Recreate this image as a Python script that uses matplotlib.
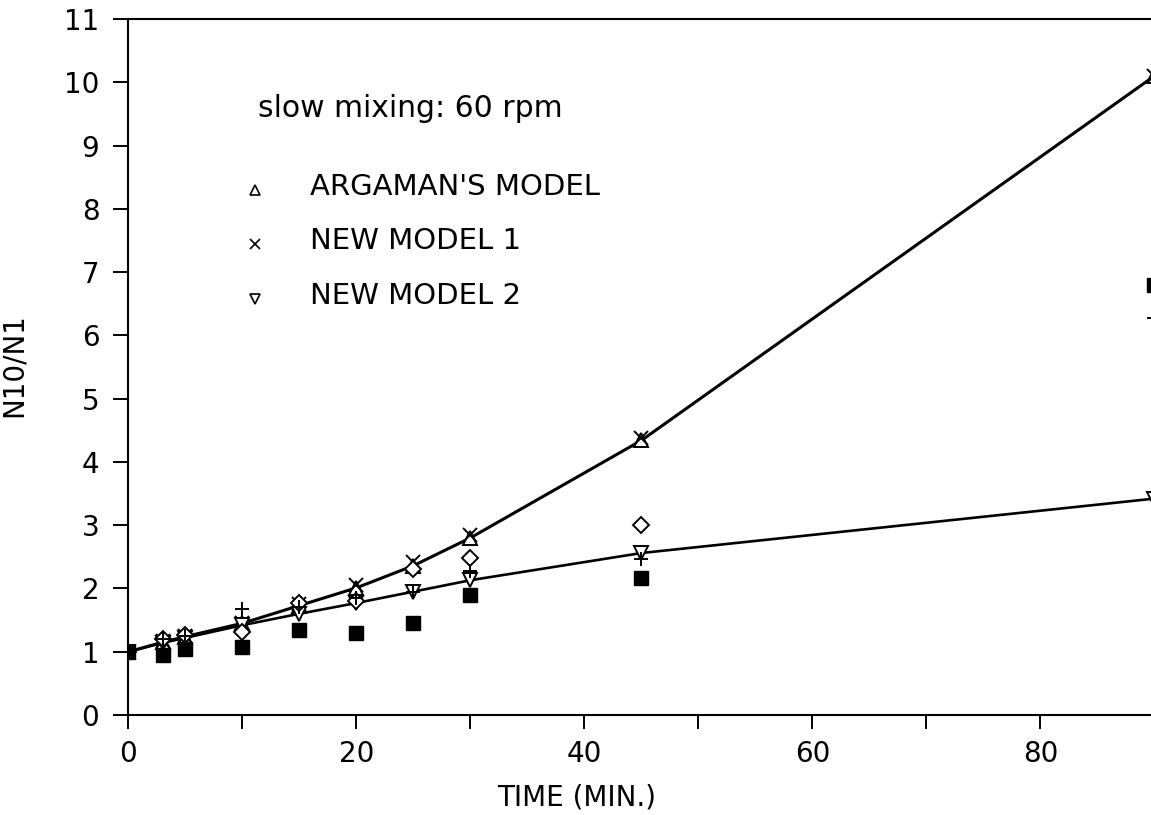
import numpy as np
import matplotlib
matplotlib.use("Agg")
import matplotlib.pyplot as plt

# sampling times (min)
time = [0, 3, 5, 10, 15, 20, 25, 30, 45, 90]

# model curves
argaman = [1.0, 1.15, 1.24, 1.45, 1.73, 2.01, 2.36, 2.80, 4.34, 10.1]
new_model_1 = [1.0, 1.17, 1.25, 1.45, 1.75, 2.06, 2.42, 2.84, 4.38, 10.1]
new_model_2 = [1.0, 1.14, 1.22, 1.42, 1.60, 1.77, 1.95, 2.13, 2.56, 3.42]

# measured points (three runs)
time_diamond = [0, 3, 5, 10, 15, 20, 25, 30, 45]
diamond = [1.0, 1.2, 1.27, 1.31, 1.77, 1.80, 2.30, 2.48, 3.01]
plus = [1.0, 1.2, 1.25, 1.68, 1.70, 1.85, 1.95, 2.28, 2.46, 6.27]
square = [1.0, 0.95, 1.04, 1.08, 1.35, 1.30, 1.45, 1.90, 2.16, 6.80]

legend_labels = ["ARGAMAN'S MODEL", "NEW MODEL 1", "NEW MODEL 2"]

matplotlib.rcParams.update({"font.size": 20, "font.family": "DejaVu Sans"})

fig = plt.figure(figsize=(11.51, 8.15), dpi=100)
ax = fig.add_axes([0.1116, 0.1227, 0.8884, 0.854])

ax.plot(time, argaman, color="black", lw=2.2, zorder=2)
ax.plot(time, new_model_2, color="black", lw=1.9, zorder=2)

mk = dict(linestyle="none", color="black", markersize=10, zorder=3)
ax.plot(time, argaman, marker="^", mfc="white", mew=1.4, **mk)
ax.plot(time, new_model_1, marker="x", mew=1.4, **mk)
ax.plot(time, new_model_2, marker="v", mfc="white", mew=1.4, **mk)
ax.plot(time_diamond, diamond, marker="D", mfc="white", mew=1.4,
        linestyle="none", color="black", markersize=8, zorder=3)
ax.plot(time, plus, marker="+", mew=1.4, **mk)
ax.plot(time, square, marker="s", mfc="black", linestyle="none",
        color="black", markersize=9.5, zorder=3)

# hand-placed legend
ax.text(11.4, 9.59, "slow mixing: 60 rpm", fontsize=21.5, va="center")
leg_markers = ["^", "x", "v"]
leg_y = [8.3, 7.45, 6.58]
for m, y, lab in zip(leg_markers, leg_y, legend_labels):
    ax.plot([11.1], [y], marker=m, color="black", mfc="white", mew=1.2,
            markersize=7, linestyle="none")
    ax.text(15.9, y + 0.04, lab, fontsize=21, va="center")

ax.set_xlim(0, 89.7)
ax.set_ylim(0, 11)
ax.set_xticks(np.arange(0, 90, 10))
ax.set_xticklabels(["0", "", "20", "", "40", "", "60", "", "80"])
ax.set_yticks(np.arange(0, 12, 1))

ax.tick_params(axis="x", direction="out", length=10, width=1.4, pad=8,
               labelsize=20)
ax.tick_params(axis="y", direction="out", length=11, width=1.4, pad=10,
               labelsize=20)

for side in ["left", "bottom", "top"]:
    ax.spines[side].set_linewidth(1.5)
ax.spines["right"].set_visible(False)

ax.set_xlabel("TIME (MIN.)", fontsize=20)
ax.set_ylabel("N10/N1", fontsize=20)
ax.xaxis.set_label_coords(0.438, -0.098)
ax.yaxis.set_label_coords(-0.098, 0.503)

fig.savefig("out.png", dpi=100)
